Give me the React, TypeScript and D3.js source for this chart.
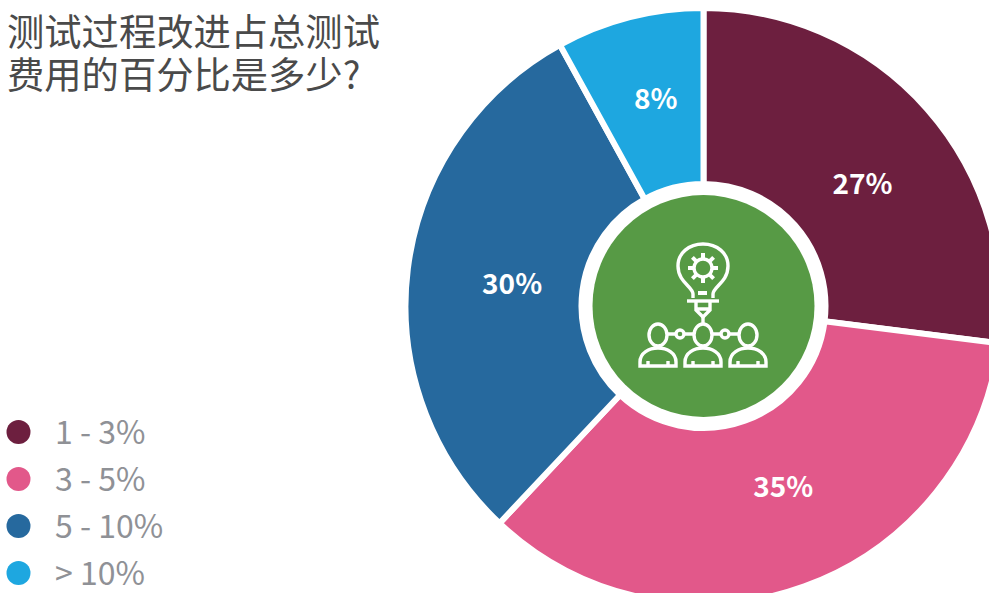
import React from 'react';
import { arc, pie } from 'd3';

const FONT = '"Noto Sans CJK SC", "Noto Sans", sans-serif';

const categories = ['1 - 3%', '3 - 5%', '5 - 10%', '> 10%'];
const shares = [27, 35, 30, 8];
const colors = ['#6d1f3f', '#e2588a', '#26699e', '#1ea7e0'];
const titleLines = ['测试过程改进占总测试', '费用的百分比是多少?'];

// labels in the source sit a little off the arc centroids
const labelNudge = [
  [9, 8],
  [12, -9],
  [7, 1],
  [2, -15],
];

const GREEN = '#579a45';

function Person({ x }: { x: number }) {
  return (
    <g transform={`translate(${x},0)`}>
      <ellipse cx={0} cy={335} rx={9} ry={11} />
      <path d="M-18,366 L-18,362 C-18,353 -9,348 0,348 C9,348 18,353 18,362 L18,366 Z" />
      <path d="M-10,366 L-10,361 M10,366 L10,361" />
    </g>
  );
}

function Icon() {
  const teeth = [0, 45, 90, 135, 180, 225, 270, 315];
  return (
    <g fill="none" stroke="#fff" strokeWidth={3.4}>
      <path d="M693,298 L693,294 C693,287 678,282 678,266 C678,253 689,244 703,244 C717,244 728,253 728,266 C728,282 713,287 713,294 L713,298" />
      <rect x={698} y={291} width={9} height={4} fill="#fff" stroke="none" />
      <path d="M687,301 L719,301" />
      <path d="M696,302 L696,310 L703,317 L710,310 L710,302 M696,309 L710,309" />
      <path d="M703,317 L703,324" />
      <circle cx={703} cy={268} r={9} />
      {teeth.map(a => (
        <line key={a} x1={703} y1={258} x2={703} y2={253} transform={`rotate(${a} 703 268)`} strokeWidth={4} />
      ))}
      <Person x={658} />
      <Person x={703} />
      <Person x={748} />
      <path d="M667,334 L676,334 M684,334 L694,334 M712,334 L721,334 M729,334 L739,334" />
      <circle cx={680} cy={334} r={4} />
      <circle cx={725} cy={334} r={4} />
    </g>
  );
}

export default function App() {
  const cx = 703.5;
  const cy = 306;

  const slices = pie<number>()
    .sort(null)
    .value(d => d)(shares);

  const sliceArc = arc<any>().innerRadius(122).outerRadius(298);
  const labelArc = arc<any>().innerRadius(200).outerRadius(200);

  return (
    <svg
      width={989}
      height={593}
      style={{ position: 'absolute', left: 0, top: 0, display: 'block', fontFamily: FONT }}
    >
      <g transform={`translate(${cx},${cy})`}>
        {slices.map((d, i) => (
          <path key={categories[i]} d={sliceArc(d) as string} fill={colors[i]} stroke="#fff" strokeWidth={6} />
        ))}
        {slices.map((d, i) => {
          const [x, y] = labelArc.centroid(d);
          return (
            <text
              key={categories[i]}
              x={x + labelNudge[i][0]}
              y={y + labelNudge[i][1]}
              textAnchor="middle"
              dominantBaseline="central"
              fill="#fff"
              fontSize={28}
              fontWeight={700}
            >
              {shares[i]}%
            </text>
          );
        })}
        <circle r={111} fill={GREEN} />
      </g>
      <Icon />

      {titleLines.map((t, i) => (
        <text key={t} x={7} y={46 + i * 43} fontSize={37.3} fill="#4a4a4a" fontWeight={400}>
          {t}
        </text>
      ))}

      {categories.map((c, i) => (
        <g key={c} transform={`translate(0,${432 + i * 47})`}>
          <circle cx={18.5} cy={0} r={12} fill={colors[i]} />
          <text x={55} y={12} fontSize={32} fill="#8f9196" fontWeight={400}>
            {c}
          </text>
        </g>
      ))}
    </svg>
  );
}
